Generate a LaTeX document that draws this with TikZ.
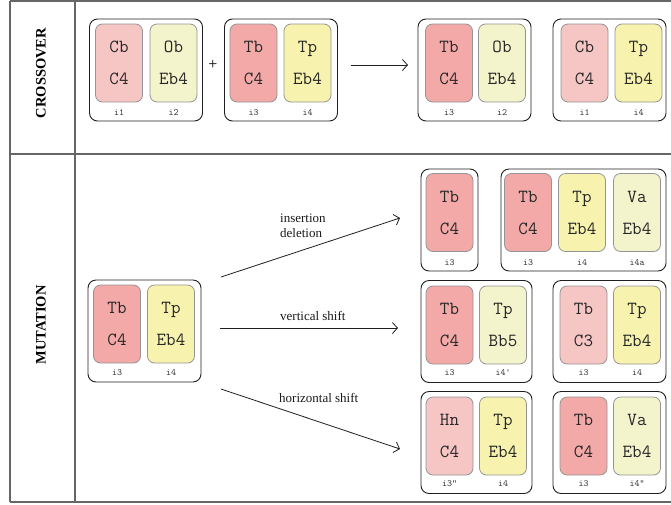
\documentclass[tikz,border=0pt]{standalone}
\usepackage{fontspec}
\setmainfont{Liberation Serif}
\usetikzlibrary{arrows.meta}
\definecolor{cdark}{HTML}{F2A9A8}
\definecolor{cpink}{HTML}{F6C6C5}
\definecolor{cyel}{HTML}{F7F3AE}
\definecolor{cpale}{HTML}{F3F3CC}
\definecolor{frameg}{HTML}{666666}
\tikzset{
  cellbox/.style={draw=black!42, line width=0.8pt, rounded corners=7pt, minimum width=47pt, minimum height=78pt,
    inner sep=0pt, align=center, text=black!85, font=\ttfamily\fontsize{18.5}{32}\selectfont},
  grp/.style={draw=black!88, line width=0.9pt, rounded corners=8pt, inner sep=0pt, minimum height=102pt},
  lab/.style={inner sep=0pt, text=black!80, font=\ttfamily\fontsize{9.5}{10}\selectfont},
  sect/.style={rotate=90, font=\bfseries\fontsize{14.5}{17}\selectfont, inner sep=0pt},
  elab/.style={inner sep=0pt, anchor=west, align=left, font=\fontsize{13}{15}\selectfont, text=black!90},
  arr/.style={draw=black!88, line width=0.8pt, -{Straight Barb[length=5pt,width=11pt]}},
  framel/.style={draw=frameg, line width=1.1pt}
}
\newcommand\gcell[6]{\node[cellbox,fill=#4] (#1) at (#2,#3) {#5\\#6};}
\newcommand\glab[4]{\node[lab] (#1) at (#2,#3) {#4};}
\newcommand\grpbox[4]{\node[grp,minimum width=#4] (#1) at (#2,#3) {};}
\begin{document}
\begin{tikzpicture}[x=1pt,y=-1pt]
\useasboundingbox (0,0) rectangle (671,504);
% frame
\draw[framel] (10,1) -- (671,1);
\draw[framel] (10,502) -- (671,502);
\draw[framel] (10,154) -- (671,154);
\draw[framel] (10,1) -- (10,502);
\draw[framel] (75,1) -- (75,502);
\node[sect] (sx) at (41,73) {CROSSOVER};
\node[sect] (sm) at (41,325) {MUTATION};

% ---------- crossover ----------
\grpbox{g1}{146}{70}{113pt}
\gcell{g1a}{119}{63}{cpink}{Cb}{C4}
\gcell{g1b}{173.5}{63}{cpale}{Ob}{Eb4}
\glab{l1a}{119}{113}{i1}
\glab{l1b}{173.5}{113}{i2}

\node[inner sep=0pt, font=\fontsize{16}{16}\selectfont] (plus) at (213,65) {+};

\grpbox{g2}{281}{70}{113pt}
\gcell{g2a}{253.5}{63}{cdark}{Tb}{C4}
\gcell{g2b}{307.5}{63}{cyel}{Tp}{Eb4}
\glab{l2a}{253.5}{113}{i3}
\glab{l2b}{307.5}{113}{i4}

\coordinate (xs) at (351,65);
\coordinate (xe) at (408,65);
\draw[arr] (xs) -- (xe);

\grpbox{g3}{474.5}{70}{113pt}
\gcell{g3a}{449}{63}{cdark}{Tb}{C4}
\gcell{g3b}{502}{63}{cpale}{Ob}{Eb4}
\glab{l3a}{449}{113}{i3}
\glab{l3b}{502}{113}{i2}

\grpbox{g4}{609.5}{70}{113pt}
\gcell{g4a}{584.5}{63}{cpink}{Cb}{C4}
\gcell{g4b}{638.5}{63}{cyel}{Tp}{Eb4}
\glab{l4a}{584.5}{113}{i1}
\glab{l4b}{638.5}{113}{i4}

% ---------- mutation ----------
\grpbox{ms}{144.5}{331}{113pt}
\gcell{msa}{117}{324}{cdark}{Tb}{C4}
\gcell{msb}{171}{324}{cyel}{Tp}{Eb4}
\glab{lmsa}{117}{373}{i3}
\glab{lmsb}{171}{373}{i4}

\coordinate (a1s) at (221,277);
\coordinate (a1e) at (400,218);
\coordinate (a2s) at (220,328);
\coordinate (a2e) at (398,328);
\coordinate (a3s) at (221,389);
\coordinate (a3e) at (400,449);
\draw[arr] (a1s) -- (a1e);
\draw[arr] (a2s) -- (a2e);
\draw[arr] (a3s) -- (a3e);
\node[elab] (t1) at (280,225.5) {insertion\\deletion};
\node[elab] (t2) at (280,316) {vertical shift};
\node[elab] (t3) at (279,398) {horizontal shift};

% row 1
\grpbox{ra}{449.5}{220}{57pt}
\gcell{raa}{449.5}{212.5}{cdark}{Tb}{C4}
\glab{lraa}{449.5}{263}{i3}

\grpbox{rb}{583.5}{220}{165pt}
\gcell{rba}{528}{212.5}{cdark}{Tb}{C4}
\gcell{rbb}{582}{212.5}{cyel}{Tp}{Eb4}
\gcell{rbc}{637}{212.5}{cpale}{Va}{Eb4}
\glab{lrba}{528}{263}{i3}
\glab{lrbb}{582}{263}{i4}
\glab{lrbc}{637}{263}{i4a}

% row 2
\grpbox{rc}{476.5}{331.5}{111pt}
\gcell{rca}{449.5}{325}{cdark}{Tb}{C4}
\gcell{rcb}{503}{325}{cpale}{Tp}{Bb5}
\glab{lrca}{449.5}{373}{i3}
\glab{lrcb}{503}{373}{i4\char"27}

\grpbox{rd}{609.5}{331.5}{113pt}
\gcell{rda}{583.5}{325}{cpink}{Tb}{C3}
\gcell{rdb}{637}{325}{cyel}{Tp}{Eb4}
\glab{lrda}{583.5}{373}{i3}
\glab{lrdb}{637}{373}{i4}

% row 3
\grpbox{re}{476.5}{442.5}{111pt}
\gcell{rea}{449.5}{436}{cpink}{Hn}{C4}
\gcell{reb}{503}{436}{cyel}{Tp}{Eb4}
\glab{lrea}{449.5}{484}{i3\char"22}
\glab{lreb}{503}{484}{i4}

\grpbox{rf}{609.5}{442.5}{113pt}
\gcell{rfa}{583.5}{436}{cdark}{Tb}{C4}
\gcell{rfb}{637}{436}{cpale}{Va}{Eb4}
\glab{lrfa}{583.5}{484}{i3}
\glab{lrfb}{637}{484}{i4\char"22}
\end{tikzpicture}
\end{document}
